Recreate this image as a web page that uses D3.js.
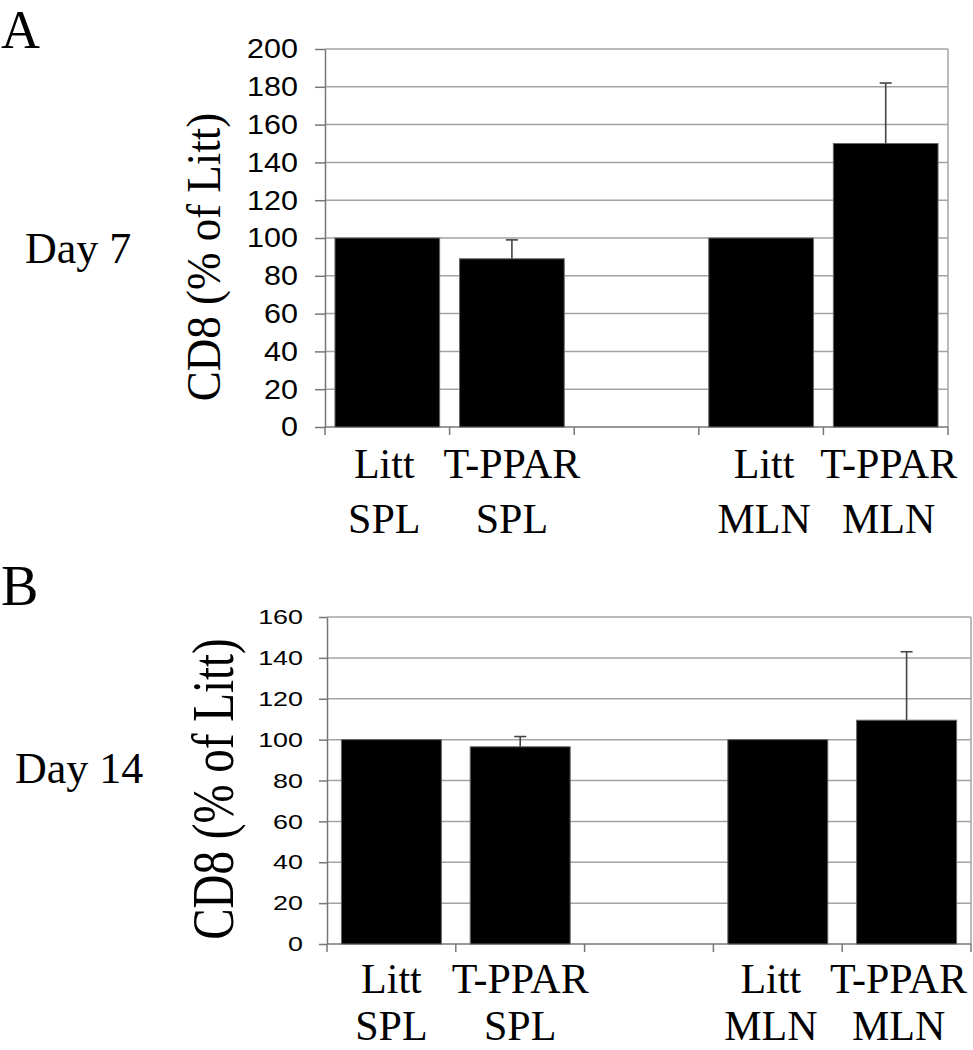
<!DOCTYPE html>
<html>
<head>
<meta charset="utf-8">
<script src="https://cdn.jsdelivr.net/npm/d3@7"></script>
<style>
    body { margin: 0; background: #fff; }
    svg { display: block; }
</style>
</head>
<body>
<svg id="chart" width="973" height="1050"></svg>
<script>
// Categories (the third slot is an empty spacer between SPL and MLN)
const categories = ["Litt SPL", "T-PPAR SPL", "spacer", "Litt MLN", "T-PPAR MLN"];
const labelTop = ["Litt", "T-PPAR", "", "Litt", "T-PPAR"];
const labelBottom = ["SPL", "SPL", "", "MLN", "MLN"];

// Day 7 values (% of Litt) and upper error
const day7Values = [100, 89, null, 100, 150];
const day7Errors = [0, 10, null, 0, 32];
const day7Ticks = [0, 20, 40, 60, 80, 100, 120, 140, 160, 180, 200];

// Day 14 values (% of Litt) and upper error
const day14Values = [100, 96.5, null, 100, 109.5];
const day14Errors = [0, 5, null, 0, 33.5];
const day14Ticks = [0, 20, 40, 60, 80, 100, 120, 140, 160];

const yLabel = "CD8 (% of Litt)";
const serif = "'Liberation Serif', 'Times New Roman', serif";
const sans = "'Liberation Sans', Arial, sans-serif";

const svg = d3.select("#chart");

function drawPanel(p) {
    const g = svg.append("g").attr("class", "panel");

    const xScale = d3.scaleBand()
        .domain(categories)
        .range([p.left, p.right])
        .paddingInner(p.pad)
        .paddingOuter(p.pad / 2);

    const yScale = d3.scaleLinear()
        .domain([0, p.max])
        .range([p.bottom, p.top]);

    // Horizontal gridlines
    g.append("g")
        .selectAll("line")
        .data(p.ticks.filter(t => t > 0))
        .join("line")
        .attr("x1", p.left)
        .attr("x2", p.right)
        .attr("y1", d => yScale(d))
        .attr("y2", d => yScale(d))
        .attr("stroke", "#a3a3a3")
        .attr("stroke-width", 1.5);

    // Right border of plot area
    g.append("line")
        .attr("x1", p.right).attr("x2", p.right)
        .attr("y1", yScale(p.max)).attr("y2", yScale(0))
        .attr("stroke", "#a3a3a3")
        .attr("stroke-width", 1.5);

    // Y axis
    const yAxis = d3.axisLeft(yScale)
        .tickValues(p.ticks)
        .tickSize(p.tickLen)
        .tickSizeOuter(0);

    const yg = g.append("g")
        .attr("transform", `translate(${p.left},0)`)
        .call(yAxis);
    yg.select(".domain").attr("stroke", "#777").attr("stroke-width", 1.5);
    yg.selectAll(".tick line").attr("stroke", "#777").attr("stroke-width", 1.5);
    yg.selectAll(".tick text")
        .attr("fill", "#000")
        .style("font-family", sans)
        .style("font-size", p.tickFont + "px")
        .attr("x", -p.tickGap / p.tickStretch)
        .attr("transform", `scale(${p.tickStretch},1)`);

    // X axis line with boundary tick marks
    const step = xScale.step();
    g.append("line")
        .attr("x1", p.left).attr("x2", p.right)
        .attr("y1", yScale(0)).attr("y2", yScale(0))
        .attr("stroke", "#777")
        .attr("stroke-width", 1.5);
    g.append("g")
        .selectAll("line")
        .data(d3.range(categories.length + 1))
        .join("line")
        .attr("x1", i => p.left + i * step)
        .attr("x2", i => p.left + i * step)
        .attr("y1", yScale(0))
        .attr("y2", yScale(0) + 8)
        .attr("stroke", "#777")
        .attr("stroke-width", 1.5);

    const data = categories.map((c, i) => ({ c, v: p.values[i], e: p.errors[i] }))
        .filter(d => d.v !== null);

    // Bars
    g.append("g")
        .selectAll("rect")
        .data(data)
        .join("rect")
        .attr("x", d => xScale(d.c))
        .attr("y", d => yScale(d.v))
        .attr("width", xScale.bandwidth())
        .attr("height", d => yScale(0) - yScale(d.v))
        .attr("fill", "#000")
        .attr("stroke", "#666")
        .attr("stroke-width", 1);

    // Error bars (upper only)
    const errData = data.filter(d => d.e > 0);
    const eg = g.append("g").attr("stroke", "#444").attr("stroke-width", 1.6);
    eg.selectAll("line.stem")
        .data(errData)
        .join("line")
        .attr("class", "stem")
        .attr("x1", d => xScale(d.c) + xScale.bandwidth() / 2)
        .attr("x2", d => xScale(d.c) + xScale.bandwidth() / 2)
        .attr("y1", d => yScale(d.v))
        .attr("y2", d => yScale(d.v + d.e));
    eg.selectAll("line.cap")
        .data(errData)
        .join("line")
        .attr("class", "cap")
        .attr("x1", d => xScale(d.c) + xScale.bandwidth() / 2 - 6)
        .attr("x2", d => xScale(d.c) + xScale.bandwidth() / 2 + 6)
        .attr("y1", d => yScale(d.v + d.e))
        .attr("y2", d => yScale(d.v + d.e));

    // Category labels (two lines, serif)
    const lg = g.append("g")
        .style("font-family", serif)
        .style("font-size", "42px")
        .attr("text-anchor", "middle")
        .attr("fill", "#000");
    categories.forEach((c, i) => {
        if (!labelTop[i]) return;
        const cx = p.left + (i + 0.5) * step + p.labelShift[i];
        lg.append("text").attr("x", cx).attr("y", yScale(0) + p.line1).text(labelTop[i]);
        lg.append("text").attr("x", cx).attr("y", yScale(0) + p.line2).text(labelBottom[i]);
    });

    // Y axis title
    g.append("text")
        .attr("transform", `translate(${p.titleX},${p.titleY}) scale(${p.titleStretch},1) rotate(-90)`)
        .attr("text-anchor", "middle")
        .style("font-family", serif)
        .style("font-size", p.titleFont + "px")
        .attr("fill", "#000")
        .text(yLabel);

    // Day label
    g.append("text")
        .attr("x", p.dayX)
        .attr("y", p.dayY)
        .style("font-family", serif)
        .style("font-size", "44px")
        .attr("fill", "#000")
        .text(p.day);

    // Panel letter
    g.append("text")
        .attr("x", 1)
        .attr("y", p.letterY)
        .style("font-family", serif)
        .style("font-size", p.letterFont + "px")
        .attr("fill", "#000")
        .text(p.letter);
}

drawPanel({
    letter: "A", letterY: 48, letterFont: 54,
    day: "Day 7", dayX: 25, dayY: 263,
    values: day7Values, errors: day7Errors, ticks: day7Ticks, max: 200,
    left: 325, right: 948, top: 49, bottom: 427, pad: 0.16,
    tickLen: 10, tickGap: 27, tickFont: 28, tickStretch: 1.09,
    line1: 51, line2: 106, labelShift: [-3, 0, 0, 3, 3],
    titleX: 220, titleY: 257, titleFont: 45, titleStretch: 1.08
});

drawPanel({
    letter: "B", letterY: 605, letterFont: 56,
    day: "Day 14", dayX: 15, dayY: 783,
    values: day14Values, errors: day14Errors, ticks: day14Ticks, max: 160,
    left: 327, right: 971, top: 617, bottom: 944, pad: 0.224,
    tickLen: 8, tickGap: 24, tickFont: 21, tickStretch: 1.28,
    line1: 49, line2: 96, labelShift: [0, 0, 0, -7, -8],
    titleX: 233, titleY: 789, titleFont: 47, titleStretch: 1.25
});
</script>
</body>
</html>
